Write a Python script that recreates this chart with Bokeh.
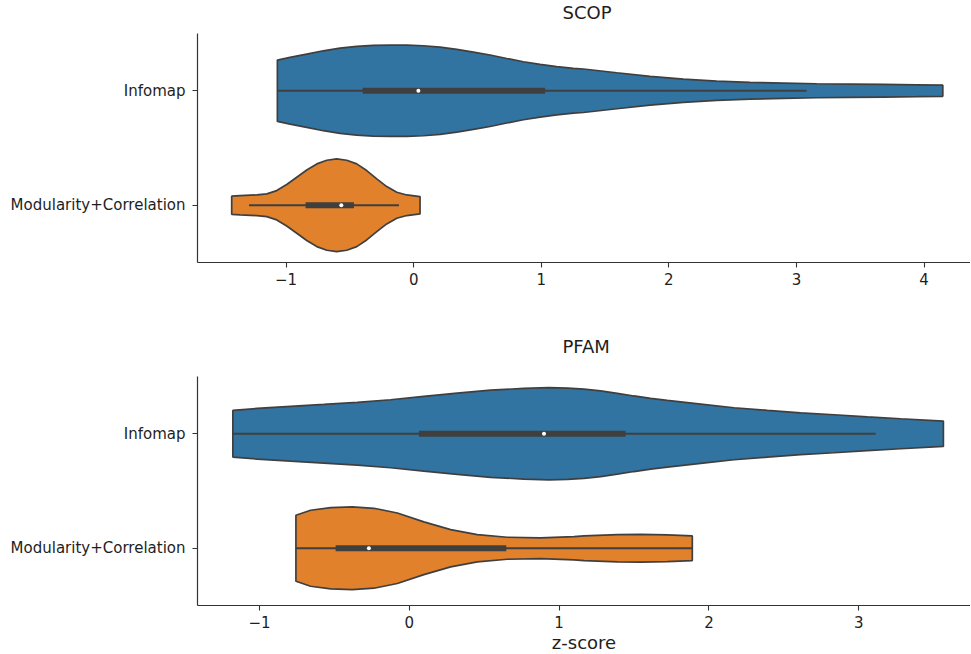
import numpy as np
from bokeh.plotting import figure
from bokeh.layouts import column
from bokeh.models import FixedTicker, Range1d
from bokeh.embed import file_html
from bokeh.resources import INLINE

# ---------------- data ----------------
categories = ["Infomap", "Modularity+Correlation"]
cat_pos = [1, 0]

# SCOP - Infomap violin outline: z-score positions and half widths (category units)
scop_info_x = [-1.068, -0.969, -0.838, -0.708, -0.577, -0.446, -0.316, -0.185, -0.054,
               0.076, 0.207, 0.338, 0.468, 0.599, 0.730, 0.860, 0.991, 1.121, 1.252,
               1.330, 1.592, 1.853, 2.114, 2.375, 2.636, 2.897, 3.159, 3.420, 3.681,
               3.943, 4.147]
scop_info_w = [0.268, 0.291, 0.320, 0.349, 0.373, 0.387, 0.396, 0.399, 0.399,
               0.393, 0.381, 0.361, 0.338, 0.312, 0.282, 0.253, 0.230, 0.210, 0.195,
               0.190, 0.157, 0.125, 0.102, 0.084, 0.073, 0.067, 0.061, 0.058, 0.055,
               0.052, 0.049]
# SCOP - Modularity+Correlation
scop_mod_x = [-1.426, -1.360, -1.230, -1.151, -1.073, -0.995, -0.916, -0.838, -0.759,
              -0.681, -0.603, -0.524, -0.446, -0.368, -0.289, -0.211, -0.132, -0.054, 0.050]
scop_mod_w = [0.079, 0.084, 0.090, 0.099, 0.128, 0.181, 0.245, 0.308, 0.361,
              0.393, 0.405, 0.393, 0.361, 0.303, 0.230, 0.163, 0.114, 0.090, 0.076]
# PFAM - Infomap
pfam_info_x = [-1.178, -1.015, -0.792, -0.570, -0.347, -0.125, 0.097, 0.320, 0.543,
               0.765, 0.932, 1.055, 1.166, 1.277, 1.388, 1.499, 1.611, 1.722, 1.945,
               2.167, 2.390, 2.612, 2.835, 3.057, 3.280, 3.565]
pfam_info_w = [0.204, 0.221, 0.239, 0.256, 0.274, 0.297, 0.326, 0.355, 0.381,
               0.396, 0.402, 0.399, 0.390, 0.374, 0.353, 0.330, 0.309, 0.291, 0.259,
               0.227, 0.204, 0.183, 0.166, 0.148, 0.131, 0.111]
# PFAM - Modularity+Correlation
pfam_mod_x = [-0.757, -0.659, -0.525, -0.381, -0.236, -0.080, 0.097, 0.276, 0.454,
              0.654, 0.876, 1.099, 1.166, 1.389, 1.544, 1.722, 1.889]
pfam_mod_w = [0.288, 0.332, 0.355, 0.361, 0.349, 0.308, 0.230, 0.163, 0.119,
              0.096, 0.090, 0.102, 0.108, 0.119, 0.122, 0.116, 0.108]

# inner box statistics: whisker low, q1, median, q3, whisker high
scop_info_box = [-1.068, -0.40, 0.037, 1.03, 3.08]
scop_mod_box = [-1.29, -0.847, -0.567, -0.468, -0.115]
pfam_info_box = [-1.178, 0.064, 0.899, 1.444, 3.113]
pfam_mod_box = [-0.757, -0.492, -0.27, 0.647, 1.889]

scop_ticks = [-1, 0, 1, 2, 3, 4]
pfam_ticks = [-1, 0, 1, 2, 3]

colors = ["#3274a1", "#e1812c"]
edge = "#3f3f3f"
FONT = "DejaVu Sans"
TXT = "#1e1e1e"


def panel(title, xr, ticks, violins, boxes, xlabel, border_top, border_bottom,
          standoff, valign):
    p = figure(output_backend="svg", toolbar_location=None,
               frame_width=773, frame_height=229,
               min_border_left=197, min_border_right=0,
               min_border_top=border_top, min_border_bottom=border_bottom,
               x_range=Range1d(*xr), y_range=Range1d(-0.5, 1.5))
    p.title.text = title
    p.title.align = "left"
    p.title.offset = 365
    p.title.vertical_align = valign
    p.title.standoff = standoff
    p.title.text_font = FONT
    p.title.text_font_size = "18px"
    p.title.text_font_style = "normal"
    p.title.text_color = TXT
    p.outline_line_color = None
    p.xgrid.visible = False
    p.ygrid.visible = False
    p.background_fill_color = "white"

    for (vx, vw), box, c, col in zip(violins, boxes, cat_pos, colors):
        vx = np.array(vx)
        vw = np.array(vw)
        xs = np.concatenate([vx, vx[::-1]])
        ys = np.concatenate([c + vw, (c - vw)[::-1]])
        p.patch(xs, ys, fill_color=col, line_color=edge, line_width=1.7)
        p.segment(x0=[box[0]], y0=[c], x1=[box[4]], y1=[c], line_color=edge, line_width=1.8)
        p.segment(x0=[box[1]], y0=[c], x1=[box[3]], y1=[c], line_color=edge, line_width=6,
                  line_cap="butt")
        p.scatter([box[2]], [c], size=4, fill_color="white", line_color=None)

    for ax in (p.xaxis[0], p.yaxis[0]):
        ax.axis_line_color = "#333333"
        ax.axis_line_width = 1.2
        ax.major_tick_line_color = "#333333"
        ax.major_tick_line_width = 1.1
        ax.major_tick_out = 5
        ax.major_tick_in = 0
        ax.minor_tick_line_color = None
        ax.major_label_text_font = FONT
        ax.major_label_text_font_size = "15px"
        ax.major_label_text_color = TXT
        ax.major_label_standoff = 5

    p.xaxis.ticker = FixedTicker(ticks=ticks)
    p.xaxis.major_label_overrides = {-1: "\u22121"}
    p.yaxis.ticker = FixedTicker(ticks=cat_pos)
    p.yaxis.major_label_overrides = {c: n for c, n in zip(cat_pos, categories)}
    p.yaxis.major_label_standoff = 7
    if xlabel:
        p.xaxis.axis_label = xlabel
        p.xaxis.axis_label_text_font = FONT
        p.xaxis.axis_label_text_font_size = "18px"
        p.xaxis.axis_label_text_font_style = "normal"
        p.xaxis.axis_label_text_color = TXT
        p.xaxis.axis_label_standoff = 1
    return p


p1 = panel("SCOP", (-1.694, 4.364), scop_ticks,
           [(scop_info_x, scop_info_w), (scop_mod_x, scop_mod_w)],
           [scop_info_box, scop_mod_box], None, 42, 40, 18, "top")
p1.margin = (-9, 0, 0, 0)
p2 = panel("PFAM", (-1.414, 3.746), pfam_ticks,
           [(pfam_info_x, pfam_info_w), (pfam_mod_x, pfam_mod_w)],
           [pfam_info_box, pfam_mod_box], "z-score", 74, 46, 40, "bottom")

layout = column(p1, p2, spacing=0)
open("out.html", "w").write(file_html(layout, INLINE))
